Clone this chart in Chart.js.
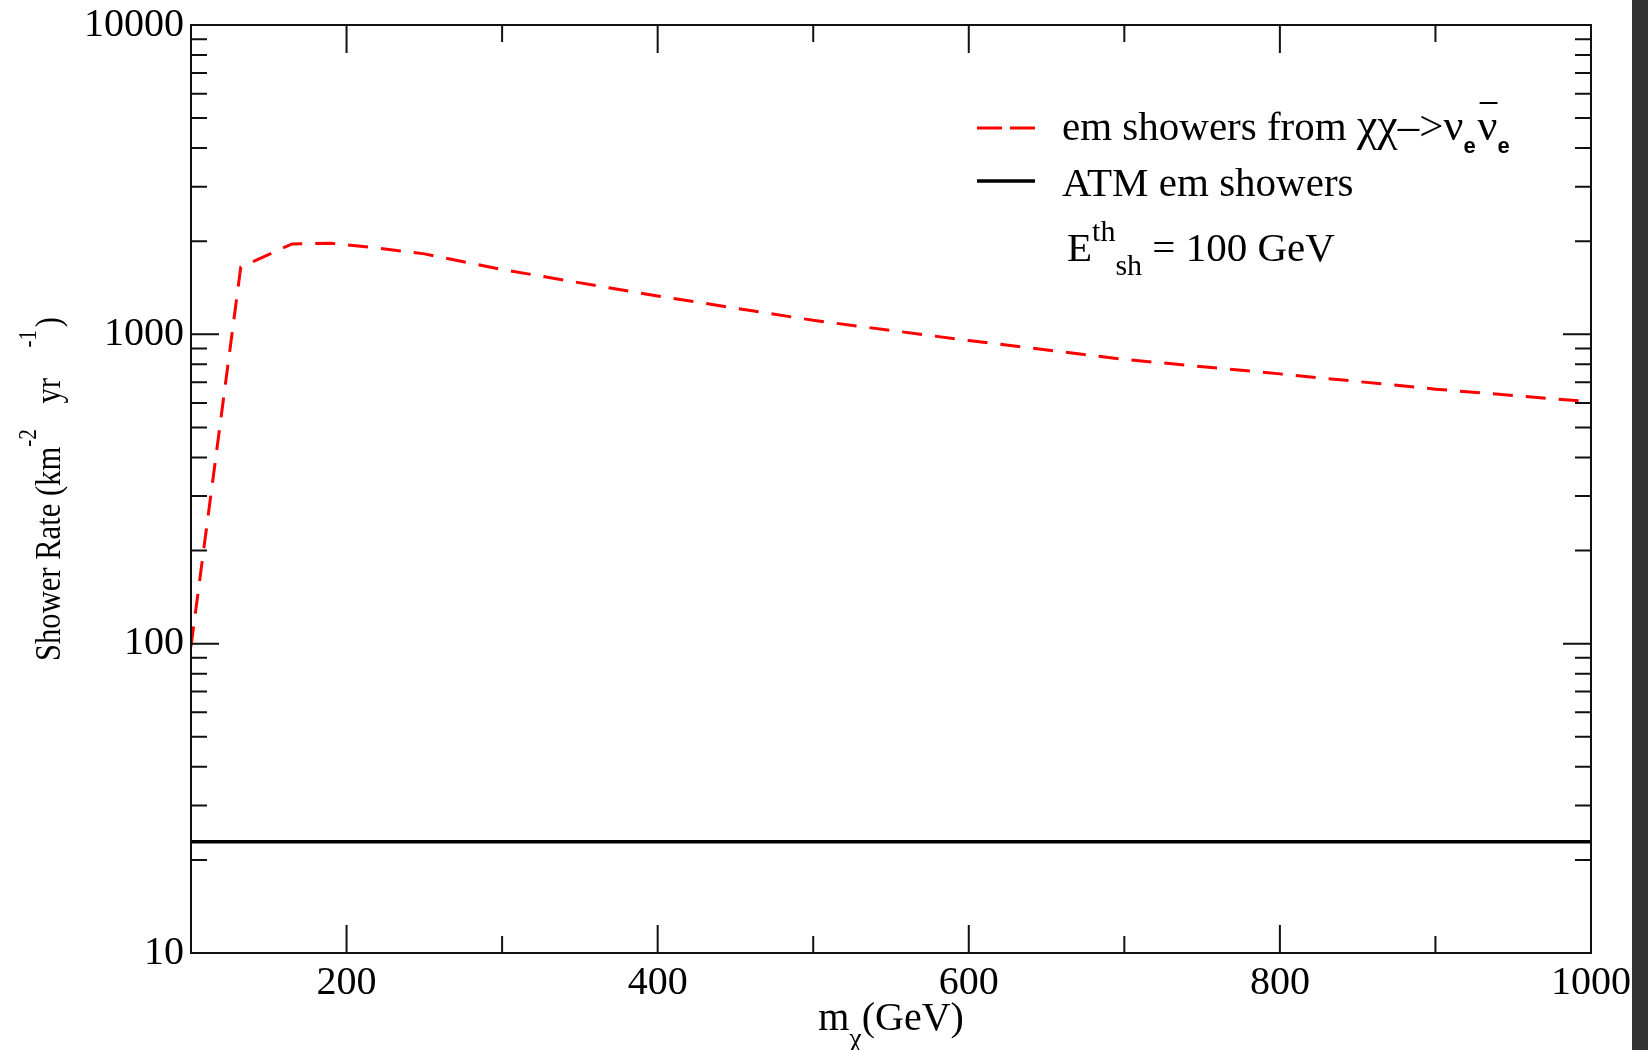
<!DOCTYPE html>
<html>
<head>
<meta charset="utf-8">
<script src="https://cdn.jsdelivr.net/npm/chart.js@4.4.0/dist/chart.umd.min.js"></script>
<style>
    html, body { margin: 0; padding: 0; background: #fff; overflow: hidden; }
    #wrap { position: relative; width: 1648px; height: 1050px; }
    #strip { position: absolute; right: 0; top: 0; width: 16px; height: 1050px; background: #333; }
</style>
</head>
<body>
<div id="wrap">
    <canvas id="rateChart" width="1648" height="1050"></canvas>
    <div id="strip"></div>
</div>
<script>
// values
const wimpMass = [100, 132, 165, 190, 220, 250, 300, 400, 500, 600, 700, 800, 900, 1000];
const wimpRate = [98, 1650, 1960, 1970, 1900, 1820, 1620, 1330, 1110, 955, 830, 745, 665, 605];
const atmMass = [100, 1000];
const atmRate = [22.9, 22.9];

const xTicks = [100, 200, 300, 400, 500, 600, 700, 800, 900, 1000];
const xTickLabels = [200, 400, 600, 800, 1000];
const yTickLabels = [10, 100, 1000, 10000];

const SERIF = '"Liberation Serif", "Times New Roman", serif';
const SANS = '"Liberation Sans", Arial, sans-serif';

function logTicks() {
    const out = [];
    for (let d = 10; d < 10000; d *= 10) {
        for (let k = 1; k < 10; k++) out.push(k * d);
    }
    out.push(10000);
    return out;
}

// draw a run of pieces {t, size, font, dy, gap} starting at x, baseline y
function drawRich(ctx, pieces, x, y) {
    let cx = x;
    pieces.forEach(p => {
        cx += p.gap || 0;
        ctx.font = (p.weight || '') + ' ' + p.size + 'px ' + (p.font || SERIF);
        ctx.fillText(p.t, cx, y + (p.dy || 0));
        const w = ctx.measureText(p.t).width;
        if (p.bar) {
            ctx.save();
            ctx.lineWidth = 2;
            ctx.beginPath();
            ctx.moveTo(cx + 2, y + p.bar);
            ctx.lineTo(cx + w, y + p.bar);
            ctx.stroke();
            ctx.restore();
        }
        cx += w;
    });
    return cx;
}

function richWidth(ctx, pieces) {
    let w = 0;
    pieces.forEach(p => {
        ctx.font = (p.weight || '') + ' ' + p.size + 'px ' + (p.font || SERIF);
        w += (p.gap || 0) + ctx.measureText(p.t).width;
    });
    return w;
}

const frameTicks = {
    id: 'frameTicks',
    afterDraw(chart) {
        const { ctx, chartArea: a } = chart;
        const xs = chart.scales.x, ys = chart.scales.y;
        ctx.save();
        ctx.strokeStyle = '#111';
        ctx.lineWidth = 2;
        ctx.strokeRect(a.left, a.top, a.right - a.left, a.bottom - a.top);
        ctx.beginPath();
        xs.ticks.forEach(t => {
            const px = xs.getPixelForValue(t.value);
            const len = xTickLabels.includes(t.value) ? 28 : 17;
            ctx.moveTo(px, a.bottom); ctx.lineTo(px, a.bottom - len);
            ctx.moveTo(px, a.top); ctx.lineTo(px, a.top + len);
        });
        ys.ticks.forEach(t => {
            const py = ys.getPixelForValue(t.value);
            const len = yTickLabels.includes(t.value) ? 28 : 16;
            ctx.moveTo(a.left, py); ctx.lineTo(a.left + len, py);
            ctx.moveTo(a.right, py); ctx.lineTo(a.right - len, py);
        });
        ctx.stroke();
        ctx.restore();
    }
};

const titlesAndLegend = {
    id: 'titlesAndLegend',
    afterDraw(chart) {
        const { ctx, chartArea: a } = chart;
        ctx.save();
        ctx.fillStyle = '#000';
        ctx.strokeStyle = '#000';
        ctx.textBaseline = 'alphabetic';
        ctx.textAlign = 'left';

        // x title: m_chi(GeV)
        const xt = [
            { t: 'm', size: 40 },
            { t: 'χ', size: 28, dy: 17 },
            { t: '(GeV)', size: 40 }
        ];
        const cx = (a.left + a.right) / 2;
        drawRich(ctx, xt, cx - richWidth(ctx, xt) / 2, 1030);

        // y title, rotated
        const yt = [
            { t: 'Shower Rate (km', size: 36 },
            { t: '-2', size: 25, dy: -24 },
            { t: 'yr', size: 36, gap: 30 },
            { t: '-1', size: 25, dy: -24, gap: 36 },
            { t: ')', size: 36, gap: 3 }
        ];
        ctx.save();
        ctx.translate(60, (a.top + a.bottom) / 2);
        ctx.rotate(-Math.PI / 2);
        ctx.scale(0.85, 1);
        drawRich(ctx, yt, -richWidth(ctx, yt) / 2, 0);
        ctx.restore();

        // legend, styles taken from the datasets
        const ds = chart.data.datasets;
        const x0 = 977, x1 = 1035, tx = 1062;
        ctx.save();
        ctx.lineWidth = ds[0].borderWidth;
        ctx.strokeStyle = ds[0].borderColor;
        ctx.setLineDash([25, 8]);
        ctx.beginPath(); ctx.moveTo(x0, 128); ctx.lineTo(x1, 128); ctx.stroke();
        ctx.setLineDash([]);
        ctx.lineWidth = ds[1].borderWidth;
        ctx.strokeStyle = ds[1].borderColor;
        ctx.beginPath(); ctx.moveTo(x0, 181); ctx.lineTo(x1, 181); ctx.stroke();
        ctx.restore();

        drawRich(ctx, [
            { t: 'em showers from ', size: 41 },
            { t: 'χχ', size: 46 },
            { t: '–>', size: 43 },
            { t: 'ν', size: 44 },
            { t: 'e', size: 22, font: SANS, weight: 'bold', dy: 13 },
            { t: 'ν', size: 44, gap: 2, bar: -37 },
            { t: 'e', size: 22, font: SANS, weight: 'bold', dy: 13 }
        ], tx, 140);
        drawRich(ctx, [{ t: 'ATM em showers', size: 41 }], tx, 196);
        drawRich(ctx, [
            { t: 'E', size: 41 },
            { t: 'th', size: 30, dy: -20 },
            { t: 'sh', size: 30, dy: 14 },
            { t: ' = 100 GeV', size: 41 }
        ], 1067, 261);
        ctx.restore();
    }
};

const ctx = document.getElementById('rateChart');

new Chart(ctx, {
    type: 'line',
    data: {
        datasets: [
            {
                label: 'em showers from χχ->νeνe',
                data: wimpMass.map((m, i) => ({ x: m, y: wimpRate[i] })),
                borderColor: '#ff0000',
                borderWidth: 3,
                borderDash: [20, 13],
                pointRadius: 0,
                tension: 0,
                fill: false
            },
            {
                label: 'ATM em showers',
                data: atmMass.map((m, i) => ({ x: m, y: atmRate[i] })),
                borderColor: '#000000',
                borderWidth: 3.5,
                pointRadius: 0,
                tension: 0,
                fill: false
            }
        ]
    },
    options: {
        responsive: false,
        animation: false,
        devicePixelRatio: 1,
        layout: { padding: { left: 0, top: 19, right: 57, bottom: 0 } },
        plugins: {
            legend: { display: false },
            tooltip: { enabled: false }
        },
        scales: {
            x: {
                type: 'linear',
                min: 100,
                max: 1000,
                afterBuildTicks: scale => { scale.ticks = xTicks.map(v => ({ value: v })); },
                afterFit: scale => { scale.height = 97; },
                grid: { display: false, drawTicks: false, tickLength: 0 },
                border: { display: false },
                ticks: {
                    autoSkip: false,
                    maxRotation: 0,
                    padding: 6,
                    color: '#000',
                    font: { family: SERIF, size: 40 },
                    callback: v => xTickLabels.includes(v) ? String(v) : ''
                }
            },
            y: {
                type: 'logarithmic',
                min: 10,
                max: 10000,
                afterBuildTicks: scale => { scale.ticks = logTicks().map(v => ({ value: v })); },
                afterFit: scale => { scale.width = 191; },
                grid: { display: false, drawTicks: false, tickLength: 0 },
                border: { display: false },
                ticks: {
                    autoSkip: false,
                    padding: 7,
                    color: '#000',
                    font: { family: SERIF, size: 40, lineHeight: 0.9 },
                    callback: v => yTickLabels.includes(v) ? String(v) : ''
                }
            }
        }
    },
    plugins: [frameTicks, titlesAndLegend]
});
</script>
</body>
</html>
